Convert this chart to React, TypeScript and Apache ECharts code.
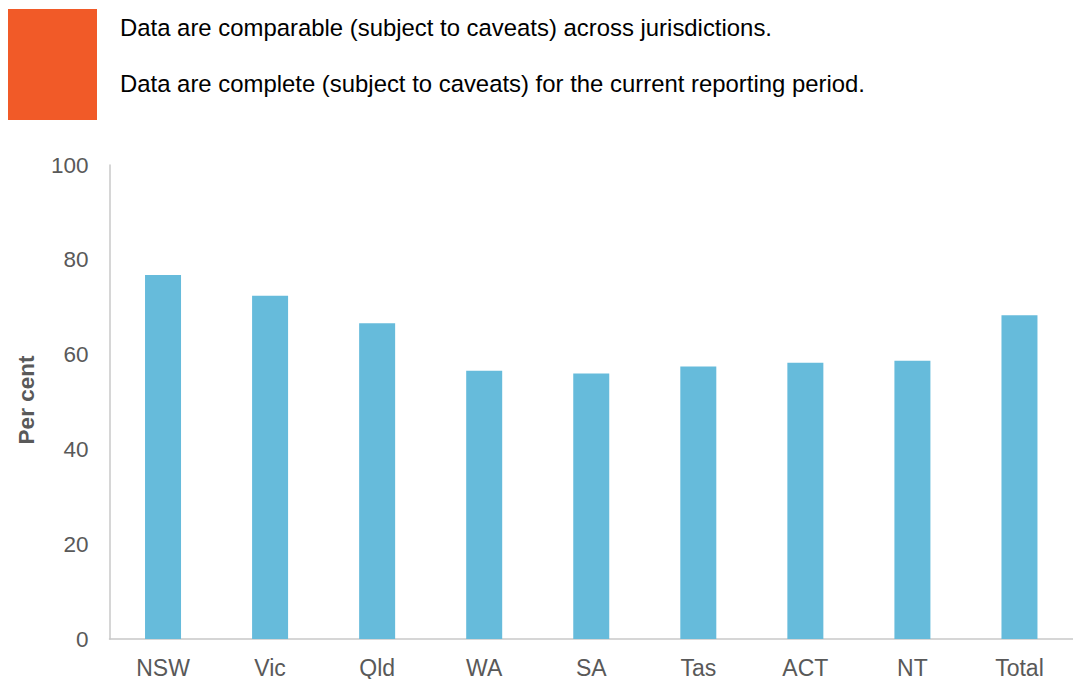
import React, { useEffect, useRef } from "react";
import * as echarts from "echarts";

const categories = ["NSW", "Vic", "Qld", "WA", "SA", "Tas", "ACT", "NT", "Total"];
const values = [76.8, 72.4, 66.6, 56.6, 56.0, 57.5, 58.3, 58.7, 68.3];
const yTicks = { min: 0, max: 100, interval: 20 };
const headerLines = [
  "Data are comparable (subject to caveats) across jurisdictions.",
  "Data are complete (subject to caveats) for the current reporting period.",
];
const yAxisTitle = "Per cent";

const FONT = "'Liberation Sans', Arial, Helvetica, sans-serif";

export default function App() {
  const ref = useRef<HTMLDivElement>(null);
  useEffect(() => {
    if (!ref.current) return;
    const chart = echarts.init(ref.current, null, { renderer: "svg" });
    chart.setOption({
      animation: false,
      textStyle: { fontFamily: FONT },
      grid: { left: 109.5, right: -11.3, top: 165, bottom: 36.5, containLabel: false },
      xAxis: {
        type: "category",
        data: categories,
        axisLine: { show: true, lineStyle: { color: "#c8c8c8", width: 1.5 } },
        axisTick: { show: false },
        axisLabel: { color: "#595959", fontSize: 23, margin: 17, fontFamily: FONT },
        splitLine: { show: false },
      },
      yAxis: {
        type: "value",
        min: yTicks.min,
        max: yTicks.max,
        interval: yTicks.interval,
        axisLine: { show: true, lineStyle: { color: "#c8c8c8", width: 1.5 } },
        axisTick: { show: false },
        splitLine: { show: false },
        axisLabel: { color: "#595959", fontSize: 22.5, margin: 21, fontFamily: FONT },
      },
      series: [
        {
          type: "bar",
          data: values,
          barWidth: 36,
          itemStyle: { color: "#66bbdb" },
          z: 1,
        },
      ],
      graphic: [
        {
          type: "rect",
          shape: { x: 8, y: 9, width: 89, height: 111 },
          style: { fill: "#f15a28" },
        },
        {
          type: "text",
          x: 120,
          y: 27,
          style: {
            text: headerLines[0],
            font: `23.9px ${FONT}`,
            fill: "#000000",
            textAlign: "left",
            textVerticalAlign: "middle",
          },
        },
        {
          type: "text",
          x: 120,
          y: 83,
          style: {
            text: headerLines[1],
            font: `23.9px ${FONT}`,
            fill: "#000000",
            textAlign: "left",
            textVerticalAlign: "middle",
          },
        },
        {
          type: "text",
          x: 26,
          y: 400,
          rotation: Math.PI / 2,
          style: {
            text: yAxisTitle,
            font: `bold 22.5px ${FONT}`,
            fill: "#595959",
            textAlign: "center",
            textVerticalAlign: "middle",
          },
        },
      ],
    });
    return () => chart.dispose();
  }, []);
  return (
    <div
      ref={ref}
      style={{ position: "absolute", left: 0, top: 0, width: 1073, height: 679, background: "#ffffff" }}
    />
  );
}
